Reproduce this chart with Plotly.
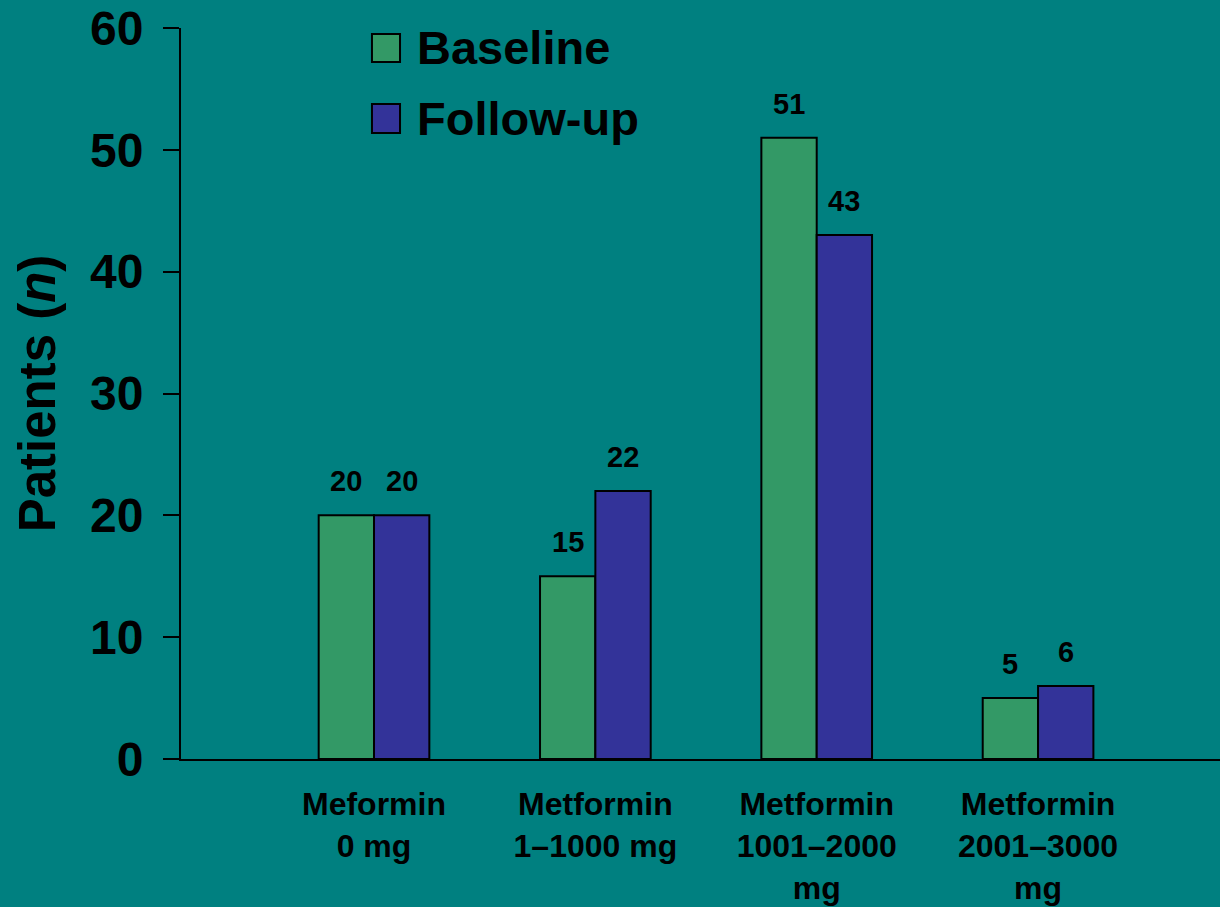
import plotly.graph_objects as go

# Metformin dose groups and patient counts
categories = ["Meformin<br>0 mg", "Metformin<br>1–1000 mg", "Metformin<br>1001–2000<br>mg", "Metformin<br>2001–3000<br>mg"]
baseline = [20, 15, 51, 5]
follow_up = [20, 22, 43, 6]
y_ticks = [0, 10, 20, 30, 40, 50, 60]

BG = "#008080"
GREEN = "#339966"
PURPLE = "#333399"
FONT = "Arial, Liberation Sans, sans-serif"

pos = list(range(len(categories)))
bar_w = 0.25

fig = go.Figure()
fig.add_trace(go.Bar(x=pos, y=baseline, name="Baseline", width=bar_w, offset=-bar_w,
                     marker=dict(color=GREEN, line=dict(color="black", width=2)), showlegend=False))
fig.add_trace(go.Bar(x=pos, y=follow_up, name="Follow-up", width=bar_w, offset=0,
                     marker=dict(color=PURPLE, line=dict(color="black", width=2)), showlegend=False))

# value labels above each bar
annotations = []
for i, (b, f) in enumerate(zip(baseline, follow_up)):
    for xv, v in ((i - bar_w / 2, b), (i + bar_w / 2, f)):
        annotations.append(dict(x=xv, y=v, xref="x", yref="y", text=str(v), showarrow=False,
                                yanchor="bottom", yshift=16,
                                font=dict(family=FONT, size=29, color="black", weight="bold")))

# legend drawn as squares with text
legend_items = [("Baseline", GREEN, 0.9535, 0.9918), ("Follow-up", PURPLE, 0.8564, 0.896)]
shapes = []
for label, col, y0, y1 in legend_items:
    shapes.append(dict(type="rect", xref="paper", yref="paper", x0=0.1838, x1=0.2108, y0=y0, y1=y1,
                       fillcolor=col, line=dict(color="black", width=2)))
    annotations.append(dict(x=0.2252, y=(y0 + y1) / 2, xref="paper", yref="paper", text=label,
                            showarrow=False, xanchor="left", yanchor="middle",
                            font=dict(family=FONT, size=47, color="black", weight="bold")))

fig.update_layout(
    width=1220, height=907,
    margin=dict(l=181, r=0, t=28, b=148),
    paper_bgcolor=BG, plot_bgcolor=BG,
    font=dict(family=FONT, color="black"),
    shapes=shapes, annotations=annotations,
    bargap=0.5,
)
fig.update_xaxes(
    range=[-0.872, 3.822], tickmode="array", tickvals=pos, ticktext=categories,
    showgrid=False, zeroline=False, showline=True, linecolor="black", linewidth=2,
    ticks="", ticklabelstandoff=16,
    tickfont=dict(family=FONT, size=32, color="black", weight="bold"),
)
fig.update_yaxes(
    range=[0, 60], tickmode="array", tickvals=y_ticks,
    showgrid=False, zeroline=False, showline=True, linecolor="black", linewidth=2,
    ticks="outside", ticklen=16, tickwidth=2, tickcolor="black", ticklabelstandoff=10,
    tickfont=dict(family=FONT, size=48, color="black", weight="bold"),
    title=dict(text="Patients (<i>n</i>)", standoff=18,
               font=dict(family=FONT, size=51, color="black", weight="bold")),
)

fig.write_html("out.html")
